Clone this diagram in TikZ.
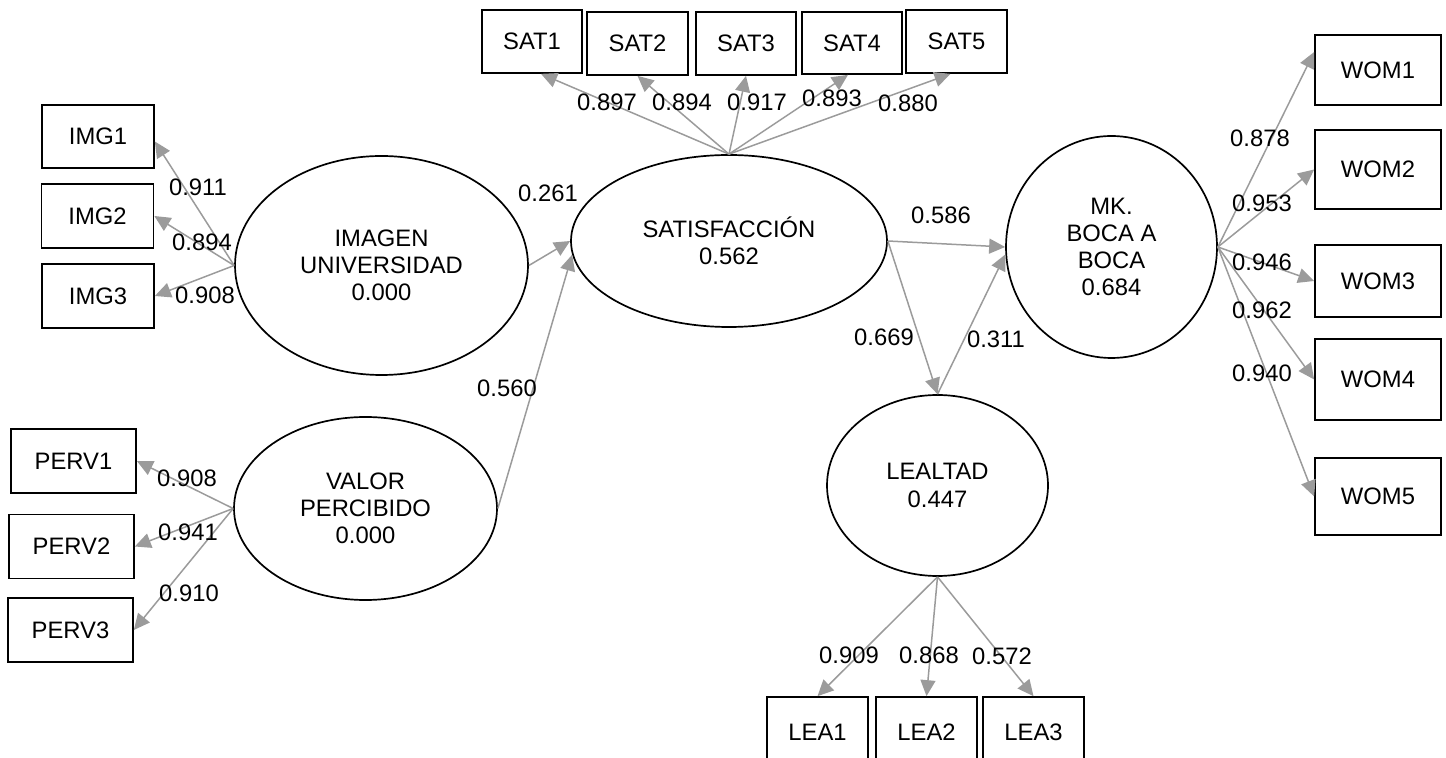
\documentclass[tikz,border=0pt]{standalone}
\usepackage{fontspec}
\setmainfont{Liberation Sans}
\usetikzlibrary{shapes.geometric,arrows.meta,calc}
\definecolor{arr}{RGB}{155,155,155}
\begin{document}
\begin{tikzpicture}[x=0.5pt,y=-0.5pt,
  every node/.style={font=\fontsize{11.9pt}{13.6pt}\selectfont, inner sep=0pt},
  ibox/.style={draw=black, line width=0.85pt, rectangle},
  lat/.style={draw=black, line width=0.85pt, ellipse, align=center},
  conn/.style={draw=arr, line width=0.75pt, -{Triangle[length=8pt,width=7.5pt]}, arr}
]
\useasboundingbox (0,0) rectangle (1446,758);
\clip (0,0) rectangle (1446,758);

% latent variables
\node[lat, minimum width=146.5pt, minimum height=109.5pt] (imagen) at (381.5,265.5) {IMAGEN\\UNIVERSIDAD\\0.000};
\node[lat, minimum width=131.5pt, minimum height=91.5pt] (valor) at (365.5,508.5) {VALOR\\PERCIBIDO\\0.000};
\node[lat, minimum width=158pt, minimum height=86pt] (satis) at (729,241) {SATISFACCIÓN\\0.562};
\node[lat, minimum width=105.5pt, minimum height=111pt] (mk) at (1111.5,247) {MK.\\BOCA A\\BOCA\\0.684};
\node[lat, minimum width=110.5pt, minimum height=90.5pt] (leal) at (937.5,485.5) {LEALTAD\\0.447};

% indicators
\node[ibox, minimum width=56pt, minimum height=31.5pt] (img1) at (98,136.5) {IMG1};
\node[ibox, minimum width=56pt, minimum height=32pt] (img2) at (97.5,216) {IMG2};
\node[ibox, minimum width=56pt, minimum height=32pt] (img3) at (98,296) {IMG3};

\node[ibox, minimum width=62.5pt, minimum height=32pt] (perv1) at (73.5,461) {PERV1};
\node[ibox, minimum width=62.5pt, minimum height=32pt] (perv2) at (71.5,546.5) {PERV2};
\node[ibox, minimum width=62.5pt, minimum height=32pt] (perv3) at (70.5,630) {PERV3};

\node[ibox, minimum width=50pt, minimum height=31.5pt] (sat1) at (532,41.5) {SAT1};
\node[ibox, minimum width=50.5pt, minimum height=31.5pt] (sat2) at (637.5,43.5) {SAT2};
\node[ibox, minimum width=50pt, minimum height=31.5pt] (sat3) at (746,43.5) {SAT3};
\node[ibox, minimum width=50pt, minimum height=31pt] (sat4) at (852,43) {SAT4};
\node[ibox, minimum width=50.5pt, minimum height=31.5pt] (sat5) at (956.5,41.5) {SAT5};

\node[ibox, minimum width=63pt, minimum height=35pt] (wom1) at (1378,70) {WOM1};
\node[ibox, minimum width=63pt, minimum height=39.5pt] (wom2) at (1378,169.5) {WOM2};
\node[ibox, minimum width=63pt, minimum height=36pt] (wom3) at (1378,281) {WOM3};
\node[ibox, minimum width=63pt, minimum height=40.5pt] (wom4) at (1378,379.5) {WOM4};
\node[ibox, minimum width=63pt, minimum height=38.5pt] (wom5) at (1378,496.5) {WOM5};

\node[ibox, minimum width=50.5pt, minimum height=35pt] (lea1) at (817.5,732) {LEA1};
\node[ibox, minimum width=50.5pt, minimum height=35pt] (lea2) at (926.5,732) {LEA2};
\node[ibox, minimum width=50.5pt, minimum height=35pt] (lea3) at (1033.5,732) {LEA3};

% loadings
\draw[conn] (imagen.west) -- ($(img1.east)+(0,5)$);
\draw[conn] (imagen.west) -- (img2.east);
\draw[conn] (imagen.west) -- (img3.east);

\draw[conn] (valor.west) -- (perv1.east);
\draw[conn] (valor.west) -- (perv2.east);
\draw[conn] (valor.west) -- (perv3.east);

\draw[conn] (satis.north) -- ($(sat1.south)+(9,0)$);
\draw[conn] (satis.north) -- (sat2.south);
\draw[conn] (satis.north) -- (sat3.south);
\draw[conn] (satis.north) -- ($(sat4.south)+(-4,0)$);
\draw[conn] (satis.north) -- ($(sat5.south)+(-6,0)$);

\draw[conn] (mk.east) -- ($(wom1.west)+(0,-18)$);
\draw[conn] (mk.east) -- (wom2.west);
\draw[conn] (mk.east) -- (wom3.west);
\draw[conn] (mk.east) -- (wom4.west);
\draw[conn] (mk.east) -- (wom5.west);

\draw[conn] (leal.south) -- (lea1.north);
\draw[conn] (leal.south) -- (lea2.north);
\draw[conn] (leal.south) -- (lea3.north);

% structural paths
\draw[conn] (imagen.east) -- (satis.west);
\draw[conn] (valor.east) -- (satis.185);
\draw[conn] (satis.east) -- (mk.west);
\draw[conn] (satis.east) -- (leal.north);
\draw[conn] (leal.north) -- (mk.184);

% labels
\node (ls1) at (607,102) {0.897};
\node (ls2) at (682,102) {0.894};
\node (ls3) at (757,102) {0.917};
\node (ls4) at (832,98) {0.893};
\node (ls5) at (908,103) {0.880};

\node (li1) at (198,187) {0.911};
\node (li2) at (202,242) {0.894};
\node (li3) at (205,295) {0.908};

\node (lp1) at (187,478) {0.908};
\node (lp2) at (188,532) {0.941};
\node (lp3) at (189,593) {0.910};

\node (lw1) at (1260,138) {0.878};
\node (lw2) at (1262,203) {0.953};
\node (lw3) at (1262,262) {0.946};
\node (lw4) at (1262,310) {0.962};
\node (lw5) at (1262,373) {0.940};

\node (ll1) at (849,655) {0.909};
\node (ll2) at (929,655) {0.868};
\node (ll3) at (1002,656) {0.572};

\node (lis) at (548,193) {0.261};
\node (lvs) at (507,388) {0.560};
\node (lsm) at (941,215) {0.586};
\node (lsl) at (884,337) {0.669};
\node (llm) at (996,339) {0.311};
\end{tikzpicture}
\end{document}
